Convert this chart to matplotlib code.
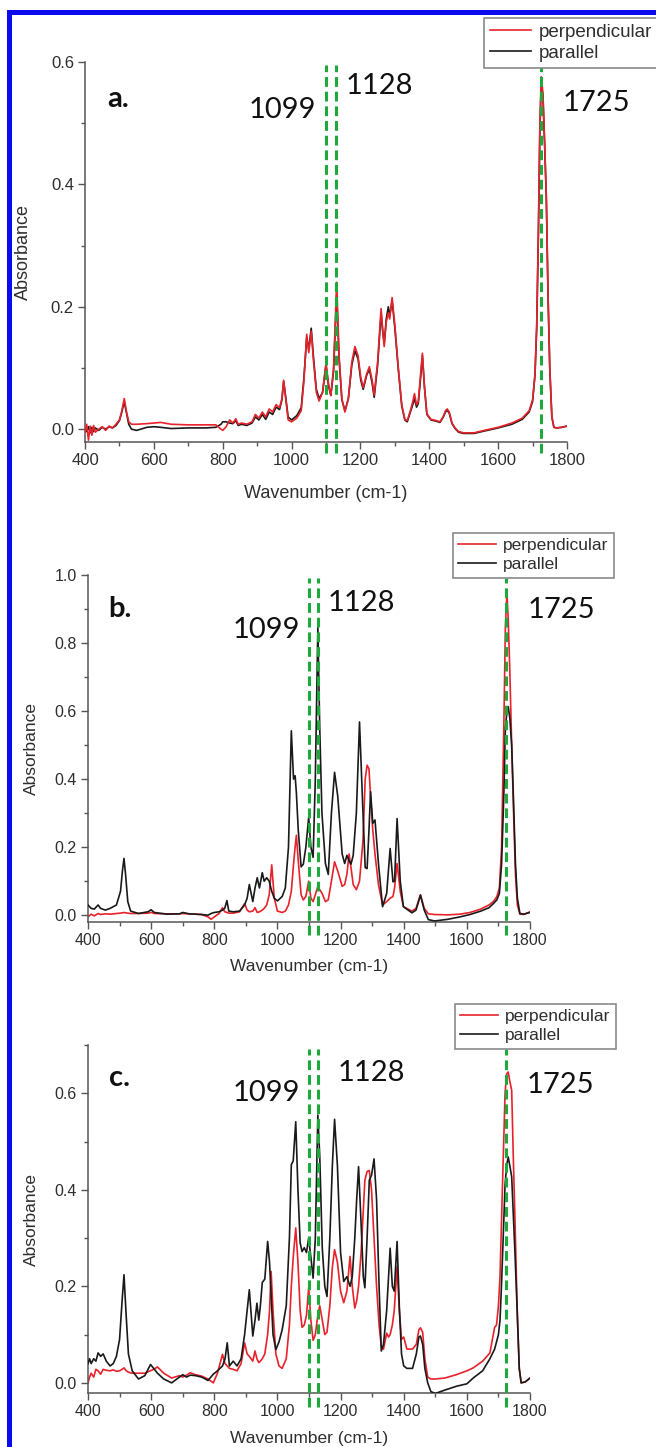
import matplotlib
matplotlib.use("Agg")
import matplotlib.pyplot as plt
from matplotlib.patches import Rectangle
from matplotlib.ticker import MultipleLocator, FormatStrFormatter
import matplotlib.transforms as mtransforms

# ---------------- data ----------------
a_wn = [400, 405, 410, 415, 420, 425, 430, 440, 450, 460, 470, 480, 490, 500, 507, 514, 520, 527,
        535, 550, 580, 600, 620, 650, 700, 750, 780, 795, 800, 810, 820, 830, 838, 845, 855, 870,
        885, 895, 905, 915, 925, 935, 945, 955, 965, 972, 977, 983, 990, 1000, 1015, 1028, 1036,
        1044, 1050, 1057, 1064, 1072, 1080, 1090, 1100, 1107, 1114, 1122, 1131, 1138, 1146, 1155,
        1165, 1175, 1184, 1193, 1201, 1208, 1218, 1226, 1234, 1240, 1250, 1260, 1265, 1269, 1275,
        1281, 1285, 1292, 1300, 1310, 1320, 1329, 1336, 1345, 1352, 1357, 1363, 1368, 1375, 1380,
        1386, 1393, 1405, 1420, 1431, 1440, 1447, 1452, 1458, 1466, 1475, 1485, 1500, 1530, 1560,
        1600, 1640, 1670, 1690, 1700, 1707, 1712, 1717, 1721, 1725, 1730, 1735, 1740, 1745, 1750,
        1756, 1762, 1770, 1785, 1800]
a_perp = [-0.005, 0.008, -0.018, 0.005, -0.010, 0.006, -0.005, 0.000, 0.004, -0.002, 0.005, 0.002,
          0.008, 0.015, 0.030, 0.050, 0.030, 0.012, 0.008, 0.008, 0.009, 0.010, 0.011, 0.008, 0.007,
          0.007, 0.007, 0.000, -0.002, 0.004, 0.015, 0.010, 0.017, 0.008, 0.010, 0.008, 0.012, 0.024,
          0.018, 0.028, 0.020, 0.033, 0.028, 0.040, 0.035, 0.050, 0.080, 0.050, 0.015, 0.012, 0.018,
          0.030, 0.080, 0.155, 0.125, 0.160, 0.110, 0.060, 0.046, 0.060, 0.108, 0.075, 0.055, 0.100,
          0.240, 0.120, 0.050, 0.028, 0.050, 0.110, 0.135, 0.120, 0.085, 0.068, 0.090, 0.102, 0.080,
          0.056, 0.110, 0.197, 0.160, 0.135, 0.175, 0.190, 0.180, 0.215, 0.170, 0.100, 0.040, 0.016,
          0.014, 0.030, 0.045, 0.058, 0.040, 0.045, 0.090, 0.124, 0.070, 0.025, 0.016, 0.014, 0.012,
          0.020, 0.030, 0.033, 0.028, 0.010, 0.002, -0.004, -0.006, -0.006, -0.002, 0.003, 0.010,
          0.018, 0.030, 0.048, 0.090, 0.170, 0.330, 0.490, 0.576, 0.550, 0.470, 0.380, 0.220, 0.100,
          0.020, 0.003, 0.002, 0.003, 0.005]
a_par = [0.002, -0.004, 0.004, -0.006, 0.003, -0.004, 0.002, -0.002, 0.003, 0.000, 0.004, 0.002,
         0.006, 0.014, 0.028, 0.045, 0.028, 0.008, 0.000, -0.002, 0.003, 0.004, 0.003, 0.001, 0.002,
         0.002, 0.003, 0.008, 0.012, 0.012, 0.010, 0.009, 0.014, 0.006, 0.008, 0.006, 0.010, 0.020,
         0.015, 0.024, 0.016, 0.028, 0.024, 0.036, 0.032, 0.048, 0.078, 0.052, 0.020, 0.015, 0.022,
         0.035, 0.085, 0.150, 0.130, 0.165, 0.115, 0.065, 0.050, 0.060, 0.105, 0.072, 0.055, 0.095,
         0.220, 0.115, 0.048, 0.030, 0.050, 0.105, 0.128, 0.115, 0.080, 0.065, 0.088, 0.098, 0.075,
         0.052, 0.105, 0.190, 0.158, 0.140, 0.180, 0.200, 0.185, 0.210, 0.165, 0.098, 0.038, 0.015,
         0.012, 0.028, 0.040, 0.050, 0.036, 0.042, 0.085, 0.120, 0.068, 0.024, 0.015, 0.013, 0.011,
         0.019, 0.028, 0.031, 0.026, 0.009, 0.001, -0.005, -0.007, -0.007, -0.003, 0.002, 0.008,
         0.016, 0.028, 0.045, 0.088, 0.165, 0.320, 0.480, 0.565, 0.545, 0.465, 0.375, 0.215, 0.098,
         0.020, 0.003, 0.002, 0.003, 0.005]

b_wn = [400, 410, 420, 432, 440, 455, 470, 490, 503, 509, 514, 519, 526, 535, 560, 590, 600, 610,
        650, 690, 700, 720, 760, 780, 790, 800, 815, 826, 833, 840, 846, 860, 880, 896, 904, 911,
        922, 929, 936, 943, 952, 958, 966, 974, 982, 990, 1000, 1015, 1025, 1035, 1044, 1051, 1056,
        1060, 1066, 1075, 1082, 1090, 1099, 1106, 1113, 1120, 1128, 1134, 1141, 1152, 1161, 1171,
        1181, 1191, 1205, 1213, 1220, 1227, 1233, 1240, 1250, 1260, 1271, 1278, 1284, 1290, 1295,
        1302, 1309, 1320, 1333, 1346, 1357, 1366, 1371, 1379, 1389, 1399, 1426, 1439, 1453, 1465,
        1478, 1498, 1540, 1578, 1610, 1644, 1670, 1684, 1695, 1703, 1710, 1717, 1722, 1727, 1731,
        1736, 1742, 1748, 1754, 1760, 1768, 1780, 1800]
b_perp = [-0.005, 0.003, -0.002, 0.005, 0.002, 0.004, 0.003, 0.005, 0.006, 0.007, 0.008, 0.007,
          0.006, 0.005, 0.005, 0.006, 0.008, 0.005, 0.004, 0.004, 0.005, 0.004, 0.002, -0.005, -0.012,
          -0.005, 0.005, 0.022, 0.010, 0.008, 0.006, 0.006, 0.010, 0.034, 0.015, 0.010, 0.012, 0.022,
          0.008, 0.010, 0.015, 0.020, 0.030, 0.060, 0.148, 0.050, 0.012, 0.008, 0.012, 0.030, 0.070,
          0.150, 0.200, 0.235, 0.160, 0.060, 0.045, 0.055, 0.100, 0.050, 0.040, 0.060, 0.085, 0.075,
          0.065, 0.040, 0.045, 0.100, 0.157, 0.130, 0.085, 0.090, 0.120, 0.180, 0.140, 0.090, 0.075,
          0.100, 0.220, 0.400, 0.441, 0.430, 0.350, 0.250, 0.180, 0.090, 0.030, 0.040, 0.050, 0.055,
          0.080, 0.152, 0.070, 0.025, 0.012, 0.020, 0.060, 0.020, 0.004, 0.002, 0.001, 0.003, 0.008,
          0.018, 0.030, 0.040, 0.055, 0.080, 0.200, 0.550, 0.850, 0.945, 0.870, 0.720, 0.500, 0.300,
          0.120, 0.030, 0.003, 0.002, 0.010]
b_par = [0.030, 0.020, 0.018, 0.030, 0.020, 0.015, 0.020, 0.030, 0.070, 0.130, 0.167, 0.120, 0.040,
         0.012, 0.005, 0.010, 0.016, 0.008, 0.003, 0.004, 0.008, 0.004, 0.002, 0.000, 0.005, 0.008,
         0.010, 0.015, 0.020, 0.043, 0.012, 0.010, 0.012, 0.030, 0.050, 0.090, 0.040, 0.080, 0.110,
         0.080, 0.125, 0.100, 0.110, 0.100, 0.070, 0.050, 0.042, 0.055, 0.080, 0.200, 0.542, 0.400,
         0.410, 0.360, 0.250, 0.142, 0.150, 0.200, 0.287, 0.200, 0.170, 0.400, 0.845, 0.550, 0.300,
         0.152, 0.120, 0.300, 0.420, 0.350, 0.180, 0.152, 0.176, 0.160, 0.150, 0.176, 0.300, 0.568,
         0.300, 0.140, 0.137, 0.250, 0.363, 0.270, 0.280, 0.152, 0.025, 0.064, 0.196, 0.098, 0.100,
         0.284, 0.100, 0.025, 0.007, 0.015, 0.059, 0.015, -0.013, -0.017, -0.012, -0.005, 0.002,
         0.012, 0.022, 0.034, 0.045, 0.064, 0.150, 0.350, 0.550, 0.600, 0.613, 0.580, 0.500, 0.330,
         0.150, 0.050, 0.005, 0.003, 0.008]

c_wn = [400, 405, 410, 418, 425, 432, 440, 448, 458, 470, 480, 490, 500, 508, 514, 520, 528, 540,
        560, 580, 598, 608, 620, 640, 665, 690, 700, 712, 724, 740, 760, 780, 797, 810, 826, 834,
        841, 848, 860, 872, 885, 896, 904, 911, 922, 929, 935, 941, 946, 952, 960, 969, 975, 980,
        986, 995, 1005, 1015, 1028, 1038, 1044, 1050, 1058, 1065, 1072, 1078, 1085, 1092, 1099,
        1106, 1113, 1120, 1128, 1134, 1142, 1150, 1157, 1166, 1174, 1181, 1190, 1200, 1210, 1220,
        1230, 1237, 1245, 1251, 1257, 1265, 1272, 1277, 1284, 1291, 1298, 1306, 1314, 1322, 1329,
        1336, 1346, 1352, 1357, 1364, 1370, 1379, 1386, 1393, 1400, 1410, 1428, 1440, 1448, 1453,
        1460, 1467, 1476, 1486, 1500, 1530, 1567, 1600, 1620, 1650, 1673, 1688, 1694, 1700, 1705,
        1710, 1715, 1721, 1726, 1731, 1736, 1742, 1747, 1752, 1760, 1766, 1772, 1785, 1800]
c_perp = [0.000, 0.012, 0.020, 0.012, 0.028, 0.025, 0.018, 0.028, 0.026, 0.025, 0.027, 0.024,
          0.025, 0.028, 0.031, 0.026, 0.022, 0.020, 0.020, 0.020, 0.025, 0.028, 0.033, 0.020, 0.010,
          0.015, 0.012, 0.016, 0.021, 0.017, 0.014, 0.008, 0.000, 0.020, 0.059, 0.040, 0.035, 0.030,
          0.028, 0.025, 0.040, 0.083, 0.060, 0.055, 0.045, 0.066, 0.050, 0.042, 0.045, 0.050, 0.060,
          0.100, 0.150, 0.231, 0.150, 0.060, 0.035, 0.030, 0.050, 0.120, 0.200, 0.260, 0.321, 0.250,
          0.150, 0.115, 0.120, 0.140, 0.197, 0.130, 0.088, 0.100, 0.140, 0.160, 0.130, 0.100, 0.105,
          0.160, 0.240, 0.276, 0.250, 0.190, 0.166, 0.190, 0.262, 0.200, 0.155, 0.170, 0.200, 0.270,
          0.360, 0.420, 0.438, 0.440, 0.400, 0.300, 0.200, 0.120, 0.075, 0.070, 0.103, 0.095, 0.100,
          0.120, 0.150, 0.241, 0.150, 0.090, 0.095, 0.070, 0.070, 0.080, 0.110, 0.114, 0.105, 0.050,
          0.012, 0.008, 0.008, 0.010, 0.017, 0.025, 0.031, 0.045, 0.062, 0.115, 0.120, 0.160, 0.220,
          0.344, 0.460, 0.600, 0.640, 0.644, 0.625, 0.606, 0.470, 0.350, 0.137, 0.030, 0.000, 0.002,
          0.010]
c_par = [0.040, 0.050, 0.040, 0.050, 0.045, 0.062, 0.055, 0.060, 0.045, 0.035, 0.040, 0.055, 0.090,
         0.170, 0.224, 0.150, 0.060, 0.025, 0.008, 0.015, 0.038, 0.030, 0.020, 0.008, 0.000, 0.012,
         0.017, 0.012, 0.016, 0.015, 0.012, 0.005, 0.018, 0.025, 0.035, 0.050, 0.083, 0.035, 0.045,
         0.035, 0.050, 0.100, 0.150, 0.193, 0.097, 0.130, 0.165, 0.130, 0.160, 0.208, 0.215, 0.293,
         0.250, 0.180, 0.100, 0.069, 0.085, 0.110, 0.160, 0.300, 0.452, 0.460, 0.541, 0.400, 0.290,
         0.272, 0.280, 0.270, 0.300, 0.260, 0.217, 0.300, 0.555, 0.470, 0.280, 0.200, 0.179, 0.300,
         0.450, 0.546, 0.450, 0.270, 0.210, 0.220, 0.200, 0.220, 0.300, 0.380, 0.448, 0.330, 0.220,
         0.197, 0.300, 0.420, 0.430, 0.464, 0.380, 0.200, 0.066, 0.080, 0.150, 0.220, 0.279, 0.200,
         0.190, 0.293, 0.160, 0.060, 0.035, 0.030, 0.030, 0.060, 0.095, 0.097, 0.080, 0.030, 0.000,
         -0.018, -0.022, -0.015, -0.007, -0.002, 0.010, 0.025, 0.050, 0.070, 0.085, 0.100, 0.130,
         0.207, 0.300, 0.410, 0.450, 0.468, 0.450, 0.427, 0.350, 0.275, 0.140, 0.030, 0.000, 0.002,
         0.010]

marker_wn = [1099, 1128, 1725]
marker_labels = ["1099", "1128", "1725"]
series_labels = ["perpendicular", "parallel"]
panel_letters = ["a.", "b.", "c."]

# ---------------- figure ----------------
W, H = 656, 1447
fig = plt.figure(figsize=(W / 100, H / 100), dpi=100)
fig.patch.set_facecolor("white")

RED = "#e8222b"
BLACK = "#1a1a1a"
GREEN = "#1fa83c"
TXT = "#2e2e2e"
SANS = ["Liberation Sans", "DejaVu Sans"]
CAL = ["Lato", "DejaVu Sans"]


def px_axes(l, r, top, bot):
    return fig.add_axes([l / W, 1 - bot / H, (r - l) / W, (bot - top) / H])


panels = [
    dict(box=(85, 567, 62, 442), ylim=(-0.021, 0.6), wn=a_wn, perp=a_perp, par=a_par, red_top=True,
         leg=(484, 18), legfs=13.5, tickfs=12, labfs=13,
         letter=(464, 0.526), lab=[(1071, 0.508, "right"), (1158, 0.548, "left"), (1788, 0.52, "left")],
         gy=(-0.029, 0.992), ylab_x=23, xlab_y=493),
    dict(box=(88, 530, 575, 922), ylim=(-0.02, 1.0), wn=b_wn, perp=b_perp, par=b_par, red_top=False,
         leg=(453, 533), legfs=12.5, tickfs=11.5, labfs=12.5,
         letter=(463, 0.876), lab=[(1071, 0.815, "right"), (1160, 0.894, "left"), (1794, 0.874, "left")],
         gy=(-0.037, 0.991), ylab_x=31, xlab_y=967),
    dict(box=(88, 530, 1045, 1393), ylim=(-0.021, 0.7), wn=c_wn, perp=c_perp, par=c_par, red_top=False,
         leg=(455, 1004), legfs=12.5, tickfs=11.5, labfs=12.5,
         letter=(466, 0.615), lab=[(1071, 0.583, "right"), (1192, 0.625, "left"), (1788, 0.600, "left")],
         gy=(-0.040, 0.988), ylab_x=31, xlab_y=1438),
]

for i, p in enumerate(panels):
    l, r, top, bot = p["box"]
    ax = px_axes(l, r, top, bot)
    zr, zb = (3, 2) if p["red_top"] else (2, 3)
    h1, = ax.plot(p["wn"], p["perp"], color=RED, lw=1.2, zorder=zr, label=series_labels[0])
    h2, = ax.plot(p["wn"], p["par"], color=BLACK, lw=1.2, zorder=zb, label=series_labels[1])
    ax.set_xlim(400, 1800)
    ax.set_ylim(*p["ylim"])
    for s in ["top", "right"]:
        ax.spines[s].set_visible(False)
    for s in ["left", "bottom"]:
        ax.spines[s].set_color("#555555")
        ax.spines[s].set_linewidth(1.1)
    ax.xaxis.set_major_locator(MultipleLocator(200))
    ax.xaxis.set_minor_locator(MultipleLocator(100))
    ax.yaxis.set_major_locator(MultipleLocator(0.2))
    ax.yaxis.set_minor_locator(MultipleLocator(0.1))
    ax.yaxis.set_major_formatter(FormatStrFormatter("%.1f"))
    ax.tick_params(which="major", direction="out", length=5, width=1, color="#555555",
                   labelsize=p["tickfs"], labelcolor=TXT, pad=3)
    ax.tick_params(which="minor", direction="out", length=3, width=1, color="#555555")
    for t in ax.get_xticklabels() + ax.get_yticklabels():
        t.set_family(SANS)

    # dashed marker lines (extend slightly beyond the axes)
    trans = mtransforms.blended_transform_factory(ax.transData, ax.transAxes)
    for xw in marker_wn:
        ax.plot([xw, xw], list(p["gy"]), transform=trans, color=GREEN, lw=2.2,
                linestyle=(0, (3.2, 1.6)), clip_on=False, zorder=5)

    # annotations
    ax.text(p["letter"][0], p["letter"][1], panel_letters[i], family=CAL, fontweight="bold",
            fontsize=21, color="#111111", ha="left", va="baseline", clip_on=False)
    for (xw, yv, ha), s in zip(p["lab"], marker_labels):
        ax.text(xw, yv, s, family=CAL, fontsize=21, color="#111111", ha=ha, va="baseline",
                clip_on=False)

    # axis labels placed in figure pixels
    fig.text(p["ylab_x"] / W, 1 - ((top + bot) / 2) / H, "Absorbance", rotation=90,
             family=SANS, fontsize=p["labfs"], color=TXT, ha="center", va="center")
    fig.text(((l + r) / 2) / W, 1 - p["xlab_y"] / H, "Wavenumber (cm-1)",
             family=SANS, fontsize=p["labfs"], color=TXT, ha="center", va="center")

    lx, ly = p["leg"]
    leg = fig.legend(handles=[h1, h2], loc="upper left", bbox_to_anchor=(lx / W, 1 - ly / H),
                     bbox_transform=fig.transFigure, prop=dict(family=SANS, size=p["legfs"]),
                     frameon=True, fancybox=False, framealpha=1, edgecolor="#8a8a8a",
                     borderpad=0.3, labelspacing=0.22, handlelength=2.2, handletextpad=0.4,
                     borderaxespad=0)
    leg.get_frame().set_linewidth(1.2)
    for t in leg.get_texts():
        t.set_color(TXT)

# blue border
BLUE = "#0a0af0"
fig.add_artist(Rectangle((7 / W, 0), 5 / W, 1 - 10 / H, transform=fig.transFigure,
                         facecolor=BLUE, edgecolor="none", zorder=10))
fig.add_artist(Rectangle((7 / W, 1 - 15 / H), 1 - 7 / W, 5 / H, transform=fig.transFigure,
                         facecolor=BLUE, edgecolor="none", zorder=10))

fig.savefig("out.png", dpi=100)
